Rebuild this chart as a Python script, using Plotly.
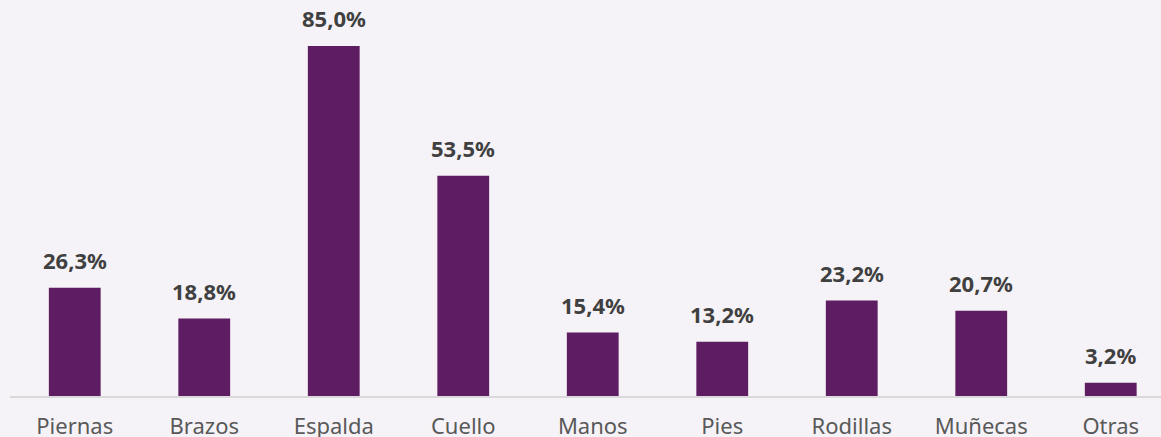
import plotly.graph_objects as go

# Body areas and share of respondents reporting discomfort (%)
categories = ["Piernas", "Brazos", "Espalda", "Cuello", "Manos", "Pies", "Rodillas", "Muñecas", "Otras"]
values = [26.3, 18.8, 85.0, 53.5, 15.4, 13.2, 23.2, 20.7, 3.2]
value_labels = ["26,3%", "18,8%", "85,0%", "53,5%", "15,4%", "13,2%", "23,2%", "20,7%", "3,2%"]

BAR = "#5E1D62"
BG = "#F5F3F7"

positions = list(range(len(categories)))

fig = go.Figure(
    go.Bar(
        x=positions,
        y=values,
        width=0.40,
        marker=dict(color=BAR, line=dict(width=0)),
        hoverinfo="skip",
    )
)

for x, v, lab in zip(positions, values, value_labels):
    fig.add_annotation(
        x=x, y=v, text=f"<b>{lab}</b>", showarrow=False,
        yanchor="bottom", yshift=11,
        font=dict(family="Noto Sans", size=22, color="#404040"),
    )

fig.update_layout(
    width=1161, height=437,
    margin=dict(l=10, r=0, t=0, b=41, autoexpand=False),
    paper_bgcolor=BG, plot_bgcolor=BG,
    showlegend=False,
    bargap=0.6,
    xaxis=dict(
        tickmode="array", tickvals=positions, ticktext=categories,
        range=[-0.5, 8.388],
        automargin=False,
        showline=True, linecolor="#D9D9D9", linewidth=1.5,
        showgrid=False, zeroline=False, ticks="",
        ticklabelstandoff=10,
        tickfont=dict(family="Noto Sans", size=22, color="#595959"),
    ),
    yaxis=dict(
        range=[0, 96.2], visible=False, showgrid=False, zeroline=False,
        automargin=False,
    ),
)

fig.write_html("out.html")
